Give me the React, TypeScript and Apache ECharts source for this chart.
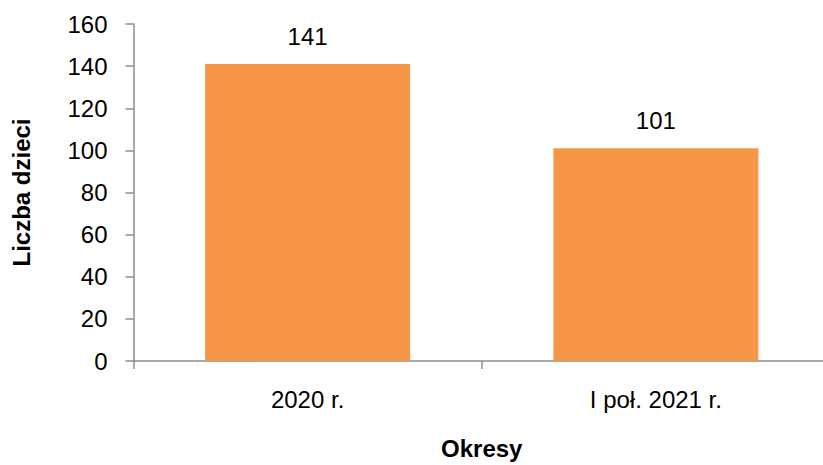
import React, { useEffect, useRef } from "react";
import * as echarts from "echarts";

const categories = ["2020 r.", "I poł. 2021 r."];
const values = [141, 101];
const yTicks = { min: 0, max: 160, interval: 20 };
const yName = "Liczba dzieci";
const xName = "Okresy";

const FONT = '"Liberation Sans", Arial, sans-serif';

export default function App() {
  const ref = useRef<HTMLDivElement>(null);
  useEffect(() => {
    if (!ref.current) return;
    document.body.style.overflow = "hidden";
    const chart = echarts.init(ref.current, undefined, { renderer: "svg" });
    chart.setOption({
      animation: false,
      backgroundColor: "#ffffff",
      textStyle: { fontFamily: FONT },
      grid: { left: 133.5, right: 0, top: 24, bottom: 100, containLabel: false },
      xAxis: {
        type: "category",
        data: categories,
        name: xName,
        nameLocation: "middle",
        nameGap: 75,
        nameTextStyle: { fontFamily: FONT, fontSize: 24, fontWeight: "bold", color: "#000" },
        axisLine: { lineStyle: { color: "#8c8c8c", width: 1.5 } },
        axisTick: { show: true, length: 8, lineStyle: { color: "#8c8c8c", width: 1.5 }, alignWithLabel: false },
        axisLabel: { fontFamily: FONT, fontSize: 24, color: "#000", margin: 26 },
      },
      yAxis: {
        type: "value",
        min: yTicks.min,
        max: yTicks.max,
        interval: yTicks.interval,
        name: yName,
        nameLocation: "middle",
        nameGap: 100,
        nameTextStyle: { fontFamily: FONT, fontSize: 24, fontWeight: "bold", color: "#000" },
        axisLine: { show: true, lineStyle: { color: "#8c8c8c", width: 1.5 } },
        axisTick: { show: true, length: 8, lineStyle: { color: "#8c8c8c", width: 1.5 } },
        axisLabel: { fontFamily: FONT, fontSize: 24, color: "#000", margin: 26 },
        splitLine: { show: false },
      },
      series: [
        {
          type: "bar",
          data: values,
          barWidth: 205,
          itemStyle: { color: "#F79646" },
          label: {
            show: true,
            position: "top",
            distance: 16,
            fontFamily: FONT,
            fontSize: 24,
            color: "#000",
          },
        },
      ],
    });
    return () => chart.dispose();
  }, []);
  return <div ref={ref} style={{ width: 830, height: 465, position: "fixed", left: 0, top: 0 }} />;
}
